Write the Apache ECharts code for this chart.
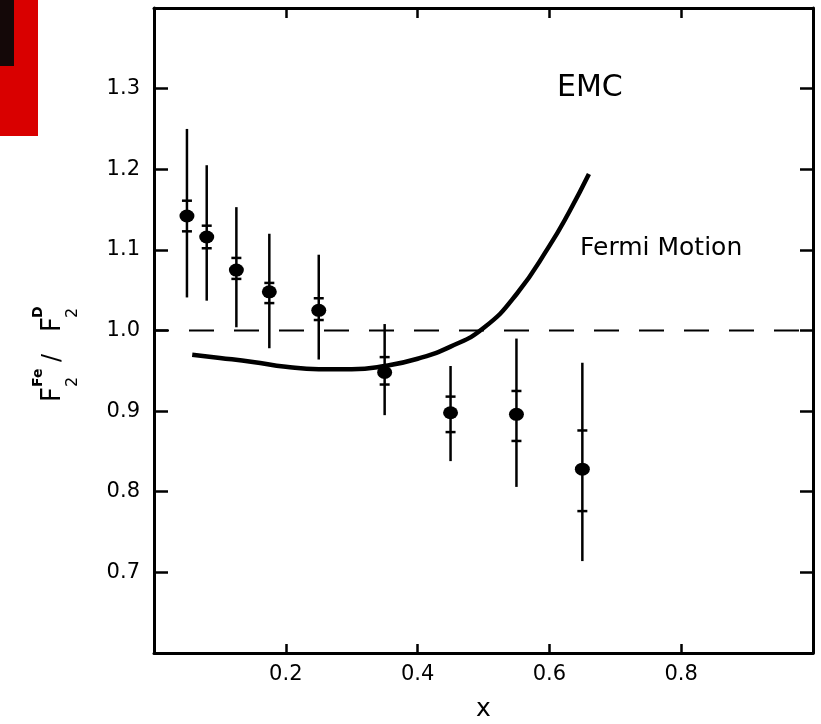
<!DOCTYPE html>
<html>
<head>
<meta charset="utf-8">
<script src="https://cdn.jsdelivr.net/npm/echarts@6/dist/echarts.min.js"></script>
<style>
html,body{margin:0;padding:0;background:#fff;}
#chart{width:821px;height:724px;}
</style>
</head>
<body>
<div id="chart"></div>
<script>
// Data points (EMC F2^Fe / F2^D)
var xValues = [0.05, 0.08, 0.125, 0.175, 0.25, 0.35, 0.45, 0.55, 0.65];
var ratio   = [1.142, 1.116, 1.075, 1.048, 1.025, 0.948, 0.898, 0.896, 0.828];
var statLo  = [1.123, 1.102, 1.064, 1.034, 1.013, 0.933, 0.874, 0.863, 0.776];
var statHi  = [1.161, 1.130, 1.090, 1.059, 1.040, 0.967, 0.918, 0.925, 0.876];
var totLo   = [1.041, 1.037, 1.004, 0.978, 0.964, 0.895, 0.838, 0.806, 0.714];
var totHi   = [1.250, 1.205, 1.153, 1.120, 1.094, 1.008, 0.956, 0.990, 0.960];

// Fermi motion curve
var fermiX = [0.058, 0.10, 0.15, 0.20, 0.25, 0.30, 0.35, 0.40, 0.45, 0.50, 0.55, 0.60, 0.63, 0.66];
var fermiY = [0.970, 0.966, 0.961, 0.955, 0.952, 0.952, 0.956, 0.965, 0.980, 1.003, 1.045, 1.105, 1.147, 1.194];

// Reference line
var refX = [0, 1];
var refY = [1.0, 1.0];

// Axis ticks
var xTickLabels = [0.2, 0.4, 0.6, 0.8];
var yTickLabels = [0.7, 0.8, 0.9, 1.0, 1.1, 1.2, 1.3];

var chart = echarts.init(document.getElementById('chart'), null, {renderer: 'canvas'});

var pts = xValues.map(function (x, i) { return [x, ratio[i]]; });
var bars = xValues.map(function (x, i) { return [x, totLo[i], totHi[i], statLo[i], statHi[i]]; });
var fermi = fermiX.map(function (x, i) { return [x, fermiY[i]]; });
var ref = refX.map(function (x, i) { return [x, refY[i]]; });

function inList(list, v) {
  for (var i = 0; i < list.length; i++) if (Math.abs(list[i] - v) < 1e-6) return true;
  return false;
}

var FONT = 'DejaVu Sans';
var axisLineStyle = {color: '#000', width: 3};

var option = {
  backgroundColor: '#fff',
  animation: false,
  grid: {left: 154, right: 8, top: 8, bottom: 71, containLabel: false, outerBoundsMode: 'none'},
  xAxis: [{
    type: 'value', min: 0, max: 1, interval: 0.2, position: 'bottom',
    axisLine: {show: true, onZero: false, lineStyle: axisLineStyle},
    axisTick: {show: true, inside: true, length: 9, lineStyle: {color: '#000', width: 2.5}},
    splitLine: {show: false},
    axisLabel: {
      margin: 11, color: '#000', fontFamily: FONT, fontSize: 21,
      formatter: function (v) { return inList(xTickLabels, v) ? v.toFixed(1) : ''; }
    },
    name: 'x', nameLocation: 'middle', nameGap: 44,
    nameTextStyle: {color: '#000', fontFamily: FONT, fontSize: 25}
  }, {
    type: 'value', min: 0, max: 1, interval: 0.2, position: 'top',
    axisLine: {show: true, onZero: false, lineStyle: axisLineStyle},
    axisTick: {show: true, inside: true, length: 10, lineStyle: {color: '#000', width: 2.5}},
    splitLine: {show: false}, axisLabel: {show: false}
  }],
  yAxis: [{
    type: 'value', min: 0.6, max: 1.4, interval: 0.1, position: 'left',
    axisLine: {show: true, onZero: false, lineStyle: axisLineStyle},
    axisTick: {show: true, inside: true, length: 14, lineStyle: {color: '#000', width: 2.5}},
    splitLine: {show: false},
    axisLabel: {
      margin: 14, color: '#000', fontFamily: FONT, fontSize: 21,
      formatter: function (v) { return inList(yTickLabels, v) ? v.toFixed(1) : ''; }
    }
  }, {
    type: 'value', min: 0.6, max: 1.4, interval: 0.1, position: 'right',
    axisLine: {show: true, onZero: false, lineStyle: axisLineStyle},
    axisTick: {show: true, inside: true, length: 13, lineStyle: {color: '#000', width: 2.5}},
    splitLine: {show: false}, axisLabel: {show: false}
  }],
  series: [{
    type: 'line', data: ref, xAxisIndex: 0, yAxisIndex: 0,
    symbol: 'none', silent: true,
    lineStyle: {color: '#000', width: 2, type: [25, 20], dashOffset: 10}
  }, {
    type: 'line', data: fermi, xAxisIndex: 0, yAxisIndex: 0,
    symbol: 'none', smooth: 0.5, silent: true,
    lineStyle: {color: '#000', width: 4.5}
  }, {
    type: 'custom', data: bars, xAxisIndex: 0, yAxisIndex: 0,
    encode: {x: 0, y: [1, 2]}, silent: true,
    renderItem: function (params, api) {
      var x = api.value(0);
      var pLo = api.coord([x, api.value(1)]);
      var pHi = api.coord([x, api.value(2)]);
      var sLo = api.coord([x, api.value(3)]);
      var sHi = api.coord([x, api.value(4)]);
      var w = 5;
      var st = {stroke: '#000', lineWidth: 2.5};
      return {
        type: 'group',
        children: [
          {type: 'line', shape: {x1: pLo[0], y1: pLo[1], x2: pHi[0], y2: pHi[1]}, style: st},
          {type: 'line', shape: {x1: sLo[0] - w, y1: sLo[1], x2: sLo[0] + w, y2: sLo[1]}, style: st},
          {type: 'line', shape: {x1: sHi[0] - w, y1: sHi[1], x2: sHi[0] + w, y2: sHi[1]}, style: st}
        ]
      };
    }
  }, {
    type: 'scatter', data: pts, xAxisIndex: 0, yAxisIndex: 0,
    symbol: 'circle', symbolSize: [15, 13], silent: true,
    itemStyle: {color: '#000', opacity: 1}
  }],
  graphic: [
    {type: 'rect', left: 0, top: 0, shape: {width: 38, height: 136}, style: {fill: '#d90000'}, silent: true},
    {type: 'rect', left: 0, top: 0, shape: {width: 14, height: 66}, style: {fill: '#140808'}, silent: true},
    {type: 'text', x: 557, y: 88, style: {text: 'EMC', fill: '#000', font: '30px "DejaVu Sans"', verticalAlign: 'middle', align: 'left'}},
    {type: 'text', x: 580, y: 248, style: {text: 'Fermi Motion', fill: '#000', font: '25px "DejaVu Sans"', verticalAlign: 'middle', align: 'left'}},
    {
      type: 'group', x: 62, y: 402, rotation: Math.PI / 2,
      children: [
        {type: 'text', x: 0, y: -9, style: {text: 'F', fill: '#000', font: '26px "DejaVu Sans"', verticalAlign: 'middle', align: 'left'}},
        {type: 'text', x: 15, y: 11, style: {text: '2', fill: '#000', font: '16px "DejaVu Sans"', verticalAlign: 'middle', align: 'left'}},
        {type: 'text', x: 15, y: -24, style: {text: 'Fe', fill: '#000', font: 'bold 14px "DejaVu Sans"', verticalAlign: 'middle', align: 'left'}},
        {type: 'text', x: 40, y: -9, style: {text: '/', fill: '#000', font: '24px "DejaVu Sans"', verticalAlign: 'middle', align: 'left'}},
        {type: 'text', x: 70, y: -9, style: {text: 'F', fill: '#000', font: '26px "DejaVu Sans"', verticalAlign: 'middle', align: 'left'}},
        {type: 'text', x: 84, y: 11, style: {text: '2', fill: '#000', font: '16px "DejaVu Sans"', verticalAlign: 'middle', align: 'left'}},
        {type: 'text', x: 84, y: -24, style: {text: 'D', fill: '#000', font: 'bold 14px "DejaVu Sans"', verticalAlign: 'middle', align: 'left'}}
      ]
    }
  ]
};
chart.setOption(option);
</script>
</body>
</html>
